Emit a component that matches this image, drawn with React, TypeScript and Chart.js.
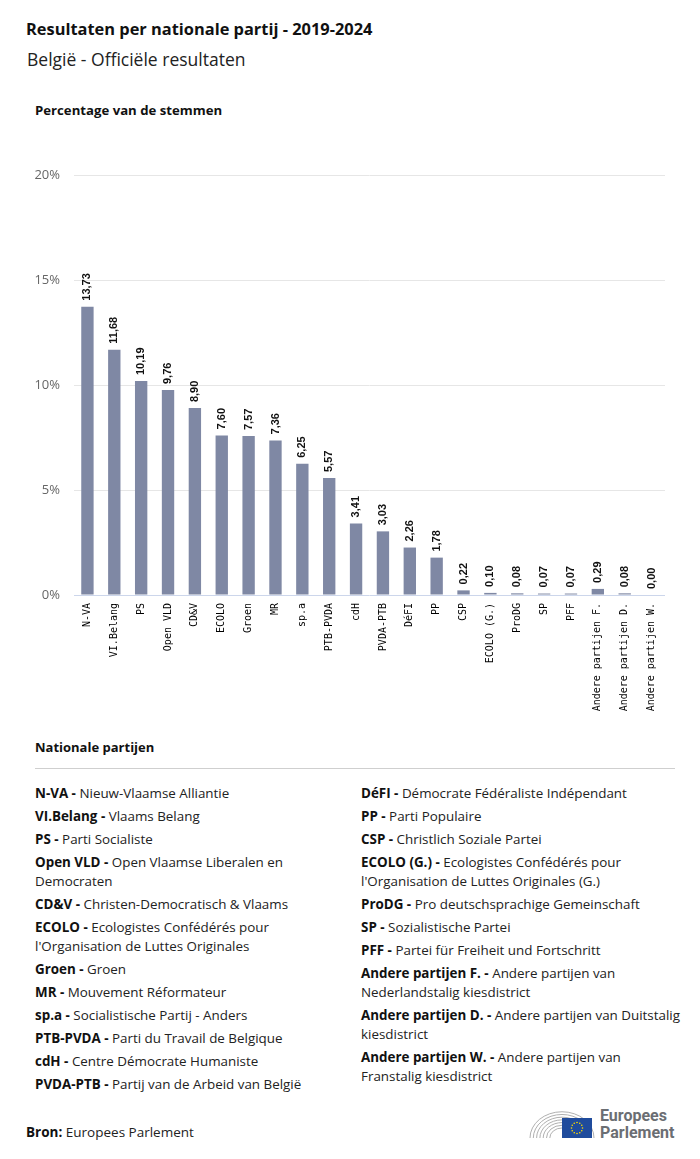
import React, { useEffect, useRef } from "react";
import { Chart, registerables } from "chart.js";

Chart.register(...registerables);

const categories = [
  "N-VA", "VI.Belang", "PS", "Open VLD", "CD&V", "ECOLO", "Groen", "MR", "sp.a",
  "PTB-PVDA", "cdH", "PVDA-PTB", "DéFI", "PP", "CSP", "ECOLO (G.)", "ProDG", "SP",
  "PFF", "Andere partijen F.", "Andere partijen D.", "Andere partijen W.",
];
const values = [
  13.73, 11.68, 10.19, 9.76, 8.9, 7.6, 7.57, 7.36, 6.25, 5.57, 3.41, 3.03, 2.26,
  1.78, 0.22, 0.1, 0.08, 0.07, 0.07, 0.29, 0.08, 0.0,
];
const yTicks = [0, 5, 10, 15, 20];

const legendLeft: [string, string][] = [
  ["N-VA", "Nieuw-Vlaamse Alliantie"],
  ["VI.Belang", "Vlaams Belang"],
  ["PS", "Parti Socialiste"],
  ["Open VLD", "Open Vlaamse Liberalen en\nDemocraten"],
  ["CD&V", "Christen-Democratisch & Vlaams"],
  ["ECOLO", "Ecologistes Confédérés pour\nl'Organisation de Luttes Originales"],
  ["Groen", "Groen"],
  ["MR", "Mouvement Réformateur"],
  ["sp.a", "Socialistische Partij - Anders"],
  ["PTB-PVDA", "Parti du Travail de Belgique"],
  ["cdH", "Centre Démocrate Humaniste"],
  ["PVDA-PTB", "Partij van de Arbeid van België"],
];
const legendRight: [string, string][] = [
  ["DéFI", "Démocrate Fédéraliste Indépendant"],
  ["PP", "Parti Populaire"],
  ["CSP", "Christlich Soziale Partei"],
  ["ECOLO (G.)", "Ecologistes Confédérés pour\nl'Organisation de Luttes Originales (G.)"],
  ["ProDG", "Pro deutschsprachige Gemeinschaft"],
  ["SP", "Sozialistische Partei"],
  ["PFF", "Partei für Freiheit und Fortschritt"],
  ["Andere partijen F.", "Andere partijen van\nNederlandstalig kiesdistrict"],
  ["Andere partijen D.", "Andere partijen van Duitstalig\nkiesdistrict"],
  ["Andere partijen W.", "Andere partijen van\nFranstalig kiesdistrict"],
];

const FONT = "'Open Sans', 'Noto Sans', sans-serif";

const valueLabels = {
  id: "valueLabels",
  afterDatasetsDraw(chart: any) {
    const ctx = chart.ctx;
    const meta = chart.getDatasetMeta(0);
    ctx.save();
    ctx.font = "bold 11px 'Liberation Sans Narrow', 'Liberation Sans', Arial, sans-serif";
    ctx.fillStyle = "#111";
    ctx.textAlign = "left";
    ctx.textBaseline = "middle";
    meta.data.forEach((bar: any, i: number) => {
      const v = chart.data.datasets[0].data[i] as number;
      const txt = v.toFixed(2).replace(".", ",");
      ctx.save();
      ctx.translate(bar.x, bar.y - 6);
      ctx.rotate(-Math.PI / 2);
      ctx.fillText(txt, 0, 0);
      ctx.restore();
    });
    ctx.restore();
  },
};

function BarChart() {
  const ref = useRef<HTMLCanvasElement | null>(null);
  useEffect(() => {
    if (!ref.current) return;
    const chart = new Chart(ref.current, {
      type: "bar",
      data: {
        labels: categories,
        datasets: [
          {
            data: values,
            backgroundColor: "#7f88a4",
            barPercentage: 0.46,
            categoryPercentage: 1,
          },
        ],
      },
      options: {
        animation: false,
        responsive: true,
        maintainAspectRatio: false,
        layout: { padding: { top: 15, right: 15, left: 0, bottom: 0 } },
        plugins: { legend: { display: false }, tooltip: { enabled: false } },
        scales: {
          x: {
            grid: { display: false, drawTicks: false },
            border: { display: false },
            ticks: {
              minRotation: 90,
              maxRotation: 90,
              padding: 8,
              autoSkip: false,
              color: "#000",
              font: { family: "'DejaVu Sans Mono', monospace", size: 10 },
            },
            afterFit(scale: any) {
              scale.height = 130;
              scale.paddingLeft = 0;
              scale.paddingRight = 0;
            },
          },
          y: {
            min: 0,
            max: 20,
            afterBuildTicks(scale: any) {
              scale.ticks = yTicks.map((v) => ({ value: v }));
            },
            grid: {
              drawTicks: false,
              color: (c: any) => (c.tick && c.tick.value === 0 ? "#ccd6eb" : "#e6e6e6"),
            },
            border: { display: false },
            ticks: {
              padding: 14,
              color: "#666",
              font: { family: FONT, size: 13 },
              callback: (v: any) => v + "%",
            },
            afterFit(scale: any) {
              scale.width = 54;
              scale.paddingTop = 0;
              scale.paddingBottom = 0;
            },
          },
        },
      },
      plugins: [valueLabels],
    });
    return () => chart.destroy();
  }, []);
  return (
    <div style={{ position: "absolute", left: 20, top: 160, width: 660, height: 565 }}>
      <canvas ref={ref} />
    </div>
  );
}

function LegendColumn({ items, left }: { items: [string, string][]; left: number }) {
  return (
    <div style={{ position: "absolute", left, top: 784, width: 330 }}>
      {items.map(([abbr, name]) => (
        <div
          key={abbr}
          style={{
            fontSize: 13.4,
            lineHeight: "19px",
            marginBottom: 4,
            color: "#222",
            whiteSpace: "pre-line",
          }}
        >
          <b style={{ color: "#111" }}>{abbr} -</b> {name}
        </div>
      ))}
    </div>
  );
}

function Logo() {
  const arcs = [];
  for (let i = 0; i < 7; i++) {
    const r = 32 - i * 3.3;
    arcs.push(
      <path
        key={i}
        d={`M ${33 - r} 33 A ${r} ${r * 0.82} 0 0 1 ${33 + r} 33`}
        fill="none"
        stroke="#b0b0b0"
        strokeWidth={1}
      />
    );
  }
  const stars = [];
  for (let i = 0; i < 12; i++) {
    const a = (i / 12) * Math.PI * 2;
    stars.push(<circle key={i} cx={48 + Math.cos(a) * 5.5} cy={23 + Math.sin(a) * 5.5} r={0.8} fill="#ffdd00" />);
  }
  return (
    <div style={{ position: "absolute", left: 529, top: 1105, width: 150, height: 40 }}>
      <svg width={70} height={40} style={{ position: "absolute", left: 0, top: 0 }}>
        {arcs}
        <rect x={33} y={13} width={30} height={20} fill="#1f4b9c" />
        {stars}
      </svg>
      <div
        style={{
          position: "absolute",
          left: 71,
          top: 2,
          fontFamily: "Roboto, sans-serif",
          fontSize: 16,
          lineHeight: "17px",
          color: "#6b6e73",
          fontWeight: 700,
        }}
      >
        Europees
        <br />
        Parlement
      </div>
    </div>
  );
}

export default function App() {
  return (
    <div
      style={{
        position: "absolute",
        left: 0,
        top: 0,
        width: 700,
        height: 1159,
        background: "#fff",
        fontFamily: FONT,
        color: "#222",
      }}
    >
      <div style={{ position: "absolute", left: 26, top: 17, fontSize: 16.4, fontWeight: 700, color: "#111" }}>
        Resultaten per nationale partij - 2019-2024
      </div>
      <div style={{ position: "absolute", left: 27, top: 47, fontSize: 17.5, color: "#222" }}>
        België - Officiële resultaten
      </div>
      <div style={{ position: "absolute", left: 35, top: 101, fontSize: 13.2, fontWeight: 700, color: "#111" }}>
        Percentage van de stemmen
      </div>
      <BarChart />
      <div style={{ position: "absolute", left: 35, top: 738, fontSize: 13, fontWeight: 700, color: "#111" }}>
        Nationale partijen
      </div>
      <div style={{ position: "absolute", left: 35, top: 768, width: 640, height: 1, background: "#cfcfcf" }} />
      <LegendColumn items={legendLeft} left={35} />
      <LegendColumn items={legendRight} left={361} />
      <div style={{ position: "absolute", left: 26, top: 1123, fontSize: 13.5, color: "#222" }}>
        <b style={{ color: "#111" }}>Bron:</b> Europees Parlement
      </div>
      <Logo />
    </div>
  );
}
